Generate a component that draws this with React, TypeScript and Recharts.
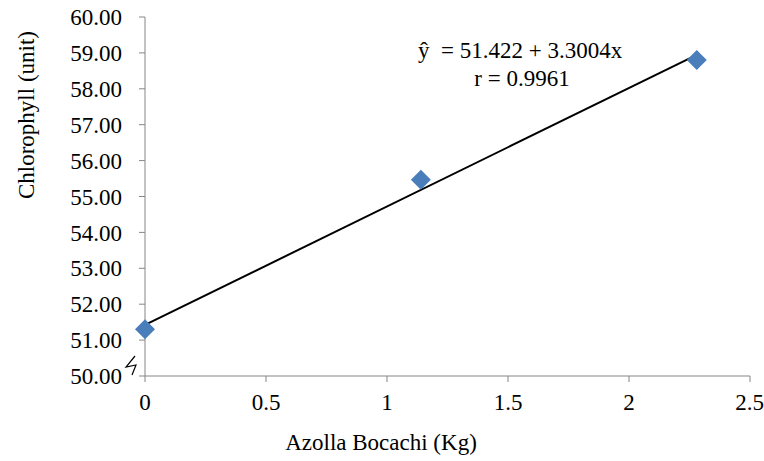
import { ScatterChart, Scatter, XAxis, YAxis, ReferenceLine, Customized } from "recharts";

const azolla = [0, 1.14, 2.28];
const chlorophyll = [51.3, 55.47, 58.8];
const xTicks = [0, 0.5, 1, 1.5, 2, 2.5];
const yTicks = [50, 51, 52, 53, 54, 55, 56, 57, 58, 59, 60];
const trendX = [0, 2.28];
const trendY = [51.422, 58.947];

const points = azolla.map((x, i) => ({ x, y: chlorophyll[i] }));
const trend = trendX.map((x, i) => ({ x, y: trendY[i] }));

const font = "'Times New Roman', 'Liberation Serif', 'DejaVu Serif', serif";
const axisColor = "#868686";

function Diamond(props: any) {
  const { cx, cy } = props;
  const r = 10;
  return (
    <polygon
      points={`${cx},${cy - r} ${cx + r},${cy} ${cx},${cy + r} ${cx - r},${cy}`}
      fill="#4a7ebb"
    />
  );
}

function Notes() {
  return (
    <g style={{ fontFamily: font }} fill="#000" fontSize={23}>
      <text x={418} y={58} style={{ fontFamily: font, whiteSpace: "pre" }}>{"ŷ  = 51.422 + 3.3004x"}</text>
      <text x={522} y={86} textAnchor="middle" style={{ fontFamily: font }}>r = 0.9961</text>
      <text x={26} y={115} textAnchor="middle" transform="rotate(-90 26 115)" dy="0.35em" style={{ fontFamily: font }}>
        Chlorophyll (unit)
      </text>
      <text x={381} y={450} textAnchor="middle" style={{ fontFamily: font }}>Azolla Bocachi (Kg)</text>
      <path d="M 135 356 L 126 367 L 136 365 L 132 375" fill="none" stroke="#000" strokeWidth={1.2} />
    </g>
  );
}

export default function App() {
  return (
    <div style={{ position: "absolute", left: 0, top: 0, background: "#fff", fontFamily: font }}>
      <ScatterChart width={764} height={461} margin={{ top: 17, right: 14, bottom: 0, left: 0 }} style={{ fontFamily: font }}>
        <XAxis
          type="number"
          dataKey="x"
          domain={[0, 2.5]}
          ticks={xTicks}
          tickFormatter={(v: number) => String(v)}
          stroke={axisColor}
          tickSize={6}
          tickMargin={12}
          tick={{ fill: "#000", fontSize: 23, style: { fontFamily: font } }}
          height={85}
        />
        <YAxis
          type="number"
          dataKey="y"
          domain={[50, 60]}
          ticks={yTicks}
          tickFormatter={(v: number) => v.toFixed(2)}
          stroke={axisColor}
          tickSize={6}
          tickMargin={17}
          tick={{ fill: "#000", fontSize: 23, style: { fontFamily: font } }}
          width={145}
        />
        <ReferenceLine
          segment={trend}
          stroke="#000"
          strokeWidth={2}
          ifOverflow="visible"
        />
        <Scatter data={points} shape={Diamond} isAnimationActive={false} />
        <Customized component={Notes} />
      </ScatterChart>
    </div>
  );
}
